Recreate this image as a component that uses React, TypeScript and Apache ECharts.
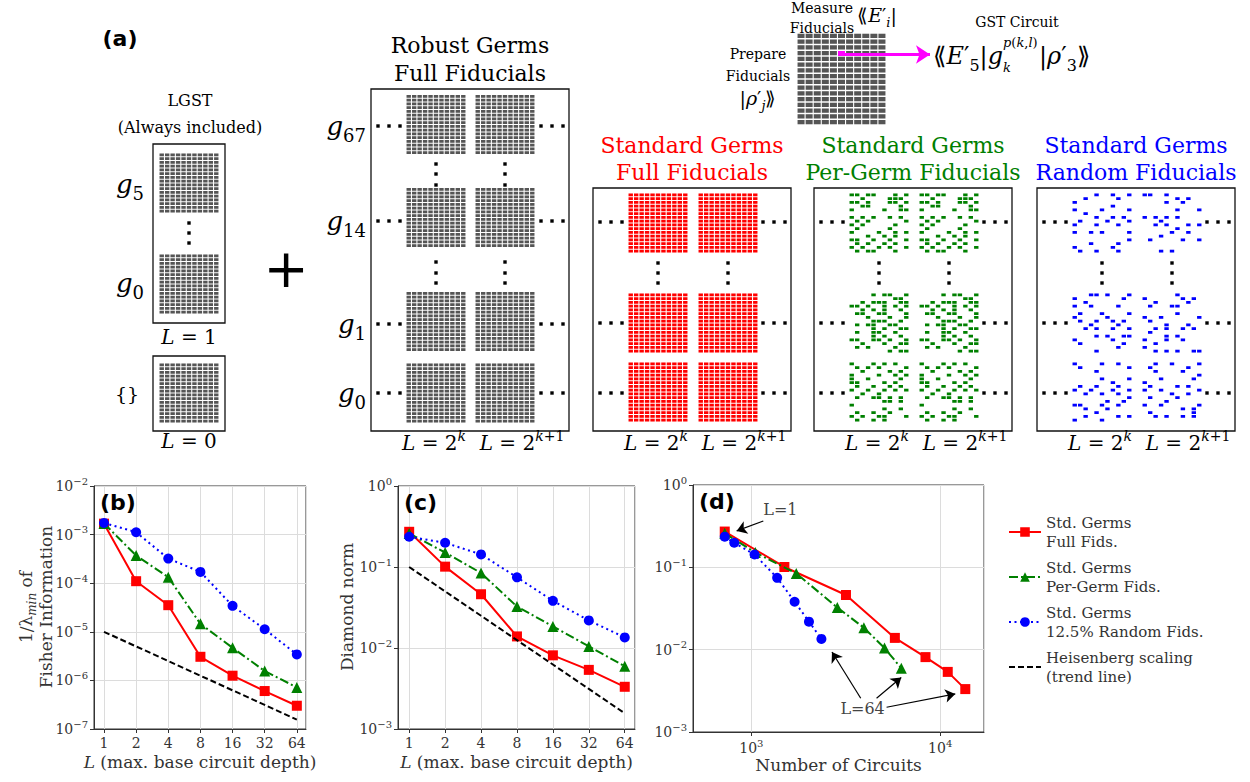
import React, { useEffect, useRef } from 'react';
import * as echarts from 'echarts';

// ---------------- data: bottom charts ----------------
const L_VALUES = [1, 2, 4, 8, 16, 32, 64];
const FISHER_FULL = [1.68e-3, 1.1e-4, 3.53e-5, 3.06e-6, 1.25e-6, 6.04e-7, 3.01e-7];
const FISHER_PERGERM = [1.7e-3, 3.7e-4, 1.33e-4, 1.46e-5, 4.69e-6, 1.56e-6, 7.18e-7];
const FISHER_RANDOM = [1.74e-3, 1.12e-3, 3.21e-4, 1.71e-4, 3.42e-5, 1.13e-5, 3.42e-6];
const FISHER_HEIS = [1e-5, 5e-6, 2.5e-6, 1.25e-6, 6.25e-7, 3.125e-7, 1.5625e-7];
const DIAMOND_FULL = [0.272, 0.101, 0.0461, 0.0139, 0.00812, 0.00537, 0.00332];
const DIAMOND_PERGERM = [0.259, 0.151, 0.0844, 0.0325, 0.01846, 0.01047, 0.00595];
const DIAMOND_RANDOM = [0.236, 0.199, 0.143, 0.0746, 0.0382, 0.0219, 0.0135];
const DIAMOND_HEIS = [0.1, 0.05, 0.025, 0.0125, 0.00625, 0.003125, 0.0015625];
const CIRCUITS_FULL = [723, 1496, 3170, 5754, 8358, 10965, 13580];
const CIRCUITS_PERGERM = [723, 1050, 1729, 2852, 3945, 5070, 6225];
const CIRCUITS_RANDOM = [723, 812, 1040, 1370, 1695, 2019, 2350];

const SERIES_NAMES = [
  'Std. Germs\nFull Fids.',
  'Std. Germs\nPer-Germ Fids.',
  'Std. Germs\n12.5% Random Fids.',
  'Heisenberg scaling\n(trend line)',
];

// annotation arrows in (d), data coordinates [from, to]
const D_ARROWS = [
  [[1157, 0.365], [836, 0.277]],
  [[3795, 0.00257], [2673, 0.00937]],
  [[4603, 0.00257], [6220, 0.0046]],
  [[5200, 0.002], [12020, 0.0029]],
];
const D_NOTES = [
  { name: 'L=1', coord: [1426, 0.5] },
  { name: 'L=64', coord: [3882, 0.00191] },
];

// ---------------- data: schematic masks (11 cols x 16 rows) ----------------
const FULL_ROW = '###########';
const FULL_BLOCK = Array.from({ length: 16 }, () => FULL_ROW);

const G_TOP = [
  '##.##...#.#', '..#....###.', '##.#...##.#', '..##.....#.',
  '#.....#..##', '...........', '#.#.#..#.#.', '.#.#......#',
  '#.#.....#..', '.#.....#...', '#....#..#.#', '...#..#.#..',
  '##..#..#..#', '.#.#..#.#..', '#.#..#.#..#', '.#.##...#..',
];
const G_MID = [
  '....#.##..#', '........##.', '..#.###..##', '##.#..#.#.#',
  '..#.#.#..#.', '.##..##...#', '...#...#..#', '....###..#.',
  '.#.##..##..', '....#.#..##', '.#..##..#..', '....#.#..#.',
  '##..##.#..#', '..#...#..##', '.#.#....#..', '.......#.##',
];
const G_BOT = [
  '#...#.#.#..', '.#.#.#....#', '..#....#.#.', '#....#..#.#',
  '#..#.....#.', '##....#.#..', '.#..#..#.#.', '#..#..#.#.#',
  '..#..#.....', '.#..##.#.#.', '......##.#.', '#..........',
  '......#..#.', '.#..#..#...', '#.#..##...#', '.#..#.#....',
];
const B_TL = [
  '....#..#..#', '..#.....#..', '#..........', '.......#...',
  '#....#....#', '..#........', '....#..#.#.', '.#....#...#',
  '#...#...#..', '...........', '#..#.#....#', '...........',
  '..........#', '...#....#..', '#......#...', '.#..#...#..',
];
const B_TR = [
  '##..#......', '......#.#..', '....#..#...', '...........',
  '......#...#', '...........', '#.#.#.#....', '...#.......',
  '..#.#...#.#', '......#....', '.....#..#..', '...#.......',
  '.#.....#..#', '...........', '...........', '...#.#.....',
];
const B_ML = [
  '...##.#...#', '#........#.', '..#........', '#..#....#..',
  '...........', '.#...#....#', '#.....#....', '.#..#..#.#.',
  '...#....#..', '..#.#..#..#', '...........', '....#.#..##',
  '#......#...', '.#.......#.', '........#..', '....#......',
];
const B_MR = [
  '......#....', '#......#.#.', '..#.....#..', '.#...##....',
  '...........', '......#....', '#..#......#', '.#.........',
  '....#...#..', '..#.#..#.#.', '.#.........', '....#.#....',
  '#...#..#...', '..#........', '#..........', '..#.#.#..##',
];
const B_BL = [
  '#....#..#..', '.#........#', '....#......', '...........',
  '.....#....#', '.......#...', '.#..#...#..', '#..#...#..#',
  '..#..#..#..', '..........#', '......#..#.', '##...#..#..',
  '..#...#....', '....#......', '..#.....#.#', '#....#.....',
];
const B_BR = [
  '..#..#....#', '.#......#..', '..#....#...', '..........#',
  '...#.....#.', '#..........', '.#....#.#..', '#..#......#',
  '.....#..#..', '.#....#....', '....#......', '#..#......#',
  '.......#.#.', '.#.......#.', '..#.#..#.#.', '...........',
];

// ---------------- layout of the schematic (pixels) ----------------
const PX = 60 / 11;
const PY = 60 / 16;
const SERIF = 'DejaVu Serif, serif';
const SANS = 'DejaVu Sans, sans-serif';
const RED = '#ff0000';
const GREEN = '#008000';
const BLUE = '#0000ff';

function blockCells(mask: string[], x0: number, y0: number, px: number, py: number, skip?: [number, number]) {
  const out: number[][] = [];
  mask.forEach((row, r) => {
    for (let c = 0; c < row.length; c++) {
      if (row[c] !== '#') continue;
      if (skip && skip[0] === c && skip[1] === r) continue;
      out.push([x0 + (c + 0.5) * px, y0 + (r + 0.5) * py]);
    }
  });
  return out;
}

const STD_TOPS = [193, 293, 362];
const ROBUST_TOPS = [94.5, 187.5, 291.5, 363];
const LGST_TOPS = [153, 254, 363];

function buildCells() {
  const gray: number[][] = [];
  LGST_TOPS.forEach((t) => gray.push(...blockCells(FULL_BLOCK, 159, t, PX, PY)));
  ROBUST_TOPS.forEach((t) => [406, 475].forEach((x) => gray.push(...blockCells(FULL_BLOCK, x, t, PX, PY))));
  const red: number[][] = [];
  STD_TOPS.forEach((t) => [628, 698].forEach((x) => red.push(...blockCells(FULL_BLOCK, x, t, PX, PY))));
  const green: number[][] = [];
  const gm = [G_TOP, G_MID, G_BOT];
  STD_TOPS.forEach((t, i) => [849, 919].forEach((x) => green.push(...blockCells(gm[i], x, t, PX, PY))));
  const blue: number[][] = [];
  const bm = [[B_TL, B_TR], [B_ML, B_MR], [B_BL, B_BR]];
  STD_TOPS.forEach((t, i) => [1072, 1142].forEach((x, j) => blue.push(...blockCells(bm[i][j], x, t, PX, PY))));
  const ex = blockCells(FULL_BLOCK, 797, 33, 89 / 11, 92 / 16, [5, 3]);
  const exHi = [[797 + 5.5 * (89 / 11), 33 + 3.5 * (92 / 16)]];
  const dots: number[][] = [];
  const hd = (b: number, y: number) => [7, 18, 29, 170, 181, 192].forEach((o) => dots.push([b + o, y]));
  [593, 814, 1037].forEach((b) => {
    [222, 323, 393].forEach((y) => hd(b, y));
    [65, 135].forEach((o) => [263, 273, 283].forEach((y) => dots.push([b + o, y])));
  });
  [126, 221, 324, 393].forEach((y) => hd(371, y));
  [65, 134].forEach((o) => [164, 174, 185, 262, 273, 283].forEach((y) => dots.push([371 + o, y])));
  [223, 233, 243].forEach((y) => dots.push([189, y]));
  return { gray, red, green, blue, ex, exHi, dots };
}

function mathRich(size: number) {
  const s = Math.round(size * 0.68);
  const lh = Math.round(size * 1.4);
  return {
    r: { fontFamily: SERIF, fontSize: size, lineHeight: lh },
    i: { fontFamily: SERIF, fontStyle: 'italic', fontSize: size, lineHeight: lh },
    sup: { fontFamily: SERIF, fontSize: s, lineHeight: s, verticalAlign: 'top' },
    isup: { fontFamily: SERIF, fontStyle: 'italic', fontSize: s, lineHeight: s, verticalAlign: 'top' },
    sub: { fontFamily: SERIF, fontSize: s, lineHeight: s, verticalAlign: 'bottom' },
    isub: { fontFamily: SERIF, fontStyle: 'italic', fontSize: s, lineHeight: s, verticalAlign: 'bottom' },
  };
}

function T(x: number, y: number, text: string, size: number, extra: any = {}, rot = 0) {
  return {
    type: 'text',
    x,
    y,
    rotation: rot,
    silent: true,
    z: 20,
    style: {
      text,
      fill: '#000',
      fontFamily: SERIF,
      fontSize: size,
      lineHeight: Math.round(size * 1.4),
      align: 'center',
      verticalAlign: 'middle',
      rich: mathRich(size),
      ...extra,
    },
  };
}

function R(x: number, y: number, w: number, h: number) {
  return {
    type: 'rect',
    silent: true,
    z: 5,
    shape: { x, y, width: w, height: h },
    style: { fill: 'none', stroke: '#111', lineWidth: 1.3 },
  };
}

function buildGraphic() {
  const g: any[] = [];
  g.push(T(120, 38, '(a)', 22, { fontFamily: SANS, fontWeight: 'bold' }));
  g.push(T(190, 100, 'LGST', 16));
  g.push(T(190, 127, '(Always included)', 16));
  g.push(R(153, 144, 72, 179));
  g.push(R(153, 356, 72, 75));
  g.push(T(144, 184, '{i|g}{sub|5}', 26, { align: 'right' }));
  g.push(T(144, 283, '{i|g}{sub|0}', 26, { align: 'right' }));
  g.push(T(127, 394, '{}', 19));
  g.push(T(189, 337, '{i|L} = 1', 20));
  g.push(T(189, 441, '{i|L} = 0', 20));
  g.push(T(286, 268, '+', 54, { fontFamily: SANS }));

  g.push(T(470, 45, 'Robust Germs', 22));
  g.push(T(470, 73, 'Full Fiducials', 22));
  g.push(R(371, 89, 198, 342));
  [['67', 126], ['14', 221], ['1', 324], ['0', 393]].forEach(([s, y]) =>
    g.push(T(366, y as number, `{i|g}{sub|${s}}`, 26, { align: 'right' })));

  const stdTitles: [number, string, string, string][] = [
    [593, 'Standard Germs', 'Full Fiducials', RED],
    [814, 'Standard Germs', 'Per-Germ Fiducials', GREEN],
    [1037, 'Standard Germs', 'Random Fiducials', BLUE],
  ];
  stdTitles.forEach(([b, t1, t2, col]) => {
    g.push(T(b + 99, 145, t1, 22, { fill: col }));
    g.push(T(b + 99, 172, t2, 22, { fill: col }));
    g.push(R(b, 188, 198, 243));
  });
  [371, 593, 814, 1037].forEach((b) => {
    g.push(T(b + 63, 443, '{i|L} = 2{isup|k}', 20));
    g.push(T(b + 151, 443, '{i|L} = 2{isup|k}{sup|+1}', 20));
  });

  // top example
  g.push(T(822, 8, 'Measure', 14));
  g.push(T(822, 28, 'Fiducials', 14));
  g.push(T(877, 15, '⟪{i|E}′{isub|i}|', 19));
  g.push(T(758, 54, 'Prepare', 14));
  g.push(T(758, 76, 'Fiducials', 14));
  g.push(T(758, 98, '|{i|ρ}′{isub|j}⟫', 19));
  g.push(T(1017, 22, 'GST Circuit', 14));
  g.push(T(1003, 56, '⟪{i|E}′{sub|5}|{i|g}', 24, { align: 'right' }));
  g.push(T(1003, 42, '{i|p}({i|k},{i|l})', 13, { align: 'left' }));
  g.push(T(1003, 67, '{i|k}', 13, { align: 'left' }));
  g.push(T(1039, 56, '|{i|ρ}′{sub|3}⟫', 24, { align: 'left' }));

  // bottom charts texts
  g.push(T(100, 502, '(b)', 22, { fontFamily: SANS, fontWeight: 'bold', align: 'left' }));
  g.push(T(404, 502, '(c)', 22, { fontFamily: SANS, fontWeight: 'bold', align: 'left' }));
  g.push(T(699, 501, '(d)', 22, { fontFamily: SANS, fontWeight: 'bold', align: 'left' }));
  g.push(T(26, 607, '1/λ{isub|min} of', 17, { fill: '#333' }, Math.PI / 2));
  g.push(T(46, 607, 'Fisher Information', 17, { fill: '#333' }, Math.PI / 2));
  g.push(T(347, 607, 'Diamond norm', 17, { fill: '#333' }, Math.PI / 2));
  return g;
}

const AX_COLOR = '#333';
const labelRich = {
  b: { fontFamily: SERIF, fontSize: 14, lineHeight: 20, color: AX_COLOR },
  sup: { fontFamily: SERIF, fontSize: 10, lineHeight: 10, verticalAlign: 'top', color: AX_COLOR },
};
const powFmt = (v: number) => {
  const e = Math.round(Math.log10(v));
  return `{b|10}{sup|${e < 0 ? '−' + -e : e}}`;
};

function axisCommon() {
  return {
    axisLine: { show: true, lineStyle: { color: AX_COLOR, width: 1 } },
    axisTick: { show: true, length: 4, lineStyle: { color: AX_COLOR } },
    splitLine: { show: true, lineStyle: { color: '#dcdcdc', width: 1 } },
    minorTick: { show: false },
    minorSplitLine: { show: false },
  };
}

function logX2(gi: number) {
  return {
    gridIndex: gi,
    type: 'log',
    logBase: 2,
    min: 0.806,
    max: 78,
    ...axisCommon(),
    axisLabel: {
      showMinLabel: false,
      showMaxLabel: false,
      formatter: (v: number) => String(Math.round(v)),
      fontFamily: SERIF,
      fontSize: 14,
      color: AX_COLOR,
      margin: 7,
    },
    name: '{i|L} (max. base circuit depth)',
    nameLocation: 'middle',
    nameGap: 24,
    nameTextStyle: {
      fontFamily: SERIF,
      fontSize: 17,
      color: AX_COLOR,
      rich: { i: { fontFamily: SERIF, fontStyle: 'italic', fontSize: 17, color: AX_COLOR } },
    },
  };
}

function logY(gi: number, min: number, max: number) {
  return {
    gridIndex: gi,
    type: 'log',
    logBase: 10,
    min,
    max,
    ...axisCommon(),
    axisLabel: { formatter: powFmt, rich: labelRich, margin: 6 },
  };
}

function lineSeries(gi: number, xs: number[], ys: number[], kind: number, extra: any = {}) {
  const styles = [
    { color: RED, symbol: 'rect', size: 10, type: 'solid' },
    { color: GREEN, symbol: 'triangle', size: 11, type: [9, 3, 2, 3] },
    { color: BLUE, symbol: 'circle', size: 10, type: [2, 3.5] },
    { color: '#000', symbol: 'none', size: 0, type: [6, 3] },
  ][kind];
  return {
    type: 'line',
    name: SERIES_NAMES[kind],
    xAxisIndex: gi,
    yAxisIndex: gi,
    data: xs.map((x, i) => [x, ys[i]]),
    symbol: styles.symbol,
    symbolSize: styles.size,
    showSymbol: styles.symbol !== 'none',
    itemStyle: { color: kind === 3 ? 'rgba(0,0,0,0)' : styles.color },
    lineStyle: { color: styles.color, width: 2, type: styles.type },
    z: 3 + kind,
    silent: true,
    ...extra,
  };
}

export default function App() {
  const ref = useRef<HTMLDivElement>(null);
  useEffect(() => {
    document.body.style.margin = '0';
    if (!ref.current) return;
    const chart = echarts.init(ref.current, null, { renderer: 'svg' });
    const cells = buildCells();
    const cellSeries = (name: string, data: number[][], color: string, size: number[]) => ({
      type: 'scatter',
      name,
      xAxisIndex: 0,
      yAxisIndex: 0,
      data,
      symbol: 'rect',
      symbolSize: size,
      itemStyle: { color, opacity: 1 },
      silent: true,
      z: 2,
    });
    const exHighlight: any = cellSeries('exHi', cells.exHi, '#ff00ff', [7, 4.3]);
    exHighlight.markLine = {
      silent: true,
      symbol: ['none', 'arrow'],
      symbolSize: 14,
      label: { show: false },
      lineStyle: { color: '#ff00ff', width: 3, type: 'solid' },
      data: [[{ coord: [838, 54.5] }, { coord: [930, 54.5] }]],
    };
    const dRed: any = lineSeries(3, CIRCUITS_FULL, DIAMOND_FULL, 0);
    dRed.markLine = {
      silent: true,
      symbol: ['none', 'arrow'],
      symbolSize: 10,
      label: { show: false },
      lineStyle: { color: '#000', width: 1.2, type: 'solid' },
      data: D_ARROWS.map(([a, b]) => [{ coord: a }, { coord: b }]),
    };
    dRed.markPoint = {
      silent: true,
      symbol: 'circle',
      symbolSize: 1,
      itemStyle: { color: 'rgba(0,0,0,0)' },
      label: {
        show: true,
        position: 'inside',
        formatter: (p: any) => p.name,
        fontFamily: SERIF,
        fontSize: 16,
        color: '#444',
      },
      data: D_NOTES.map((n) => ({ name: n.name, coord: n.coord })),
    };

    const option: any = {
      animation: false,
      backgroundColor: '#ffffff',
      legend: {
        data: SERIES_NAMES,
        orient: 'vertical',
        left: 1003,
        top: 508,
        itemWidth: 32,
        itemHeight: 12,
        itemGap: 7,
        selectedMode: false,
        textStyle: { fontFamily: SERIF, fontSize: 15, lineHeight: 19, color: '#333' },
      },
      grid: [
        { left: 0, top: 0, width: 1250, height: 782, show: false, containLabel: false, outerBoundsMode: 'none' },
        { left: 94, top: 486, width: 212, height: 243, show: true, borderColor: AX_COLOR, borderWidth: 1, containLabel: false, outerBoundsMode: 'none' },
        { left: 398, top: 486, width: 237, height: 243, show: true, borderColor: AX_COLOR, borderWidth: 1, containLabel: false, outerBoundsMode: 'none' },
        { left: 693, top: 485, width: 291, height: 247, show: true, borderColor: AX_COLOR, borderWidth: 1, containLabel: false, outerBoundsMode: 'none' },
      ],
      xAxis: [
        { gridIndex: 0, type: 'value', min: 0, max: 1250, show: false },
        logX2(1),
        logX2(2),
        {
          gridIndex: 3,
          type: 'log',
          logBase: 10,
          min: 491,
          max: 17060,
          ...axisCommon(),
          axisLabel: { showMinLabel: false, showMaxLabel: false, formatter: powFmt, rich: labelRich, margin: 6 },
          name: 'Number of Circuits',
          nameLocation: 'middle',
          nameGap: 24,
          nameTextStyle: { fontFamily: SERIF, fontSize: 17, color: AX_COLOR },
        },
      ],
      yAxis: [
        { gridIndex: 0, type: 'value', min: 0, max: 782, inverse: true, show: false },
        logY(1, 1e-7, 1e-2),
        logY(2, 1e-3, 1),
        logY(3, 1e-3, 1),
      ],
      series: [
        cellSeries('gray', cells.gray, '#555555', [4.4, 2.8]),
        cellSeries('red', cells.red, RED, [4.4, 2.8]),
        cellSeries('green', cells.green, GREEN, [4.4, 2.8]),
        cellSeries('blue', cells.blue, BLUE, [4.4, 2.8]),
        cellSeries('ex', cells.ex, '#555555', [7, 4.3]),
        exHighlight,
        cellSeries('dots', cells.dots, '#000', [3.4, 3.4]),
        lineSeries(1, L_VALUES, FISHER_HEIS, 3),
        lineSeries(1, L_VALUES, FISHER_FULL, 0),
        lineSeries(1, L_VALUES, FISHER_PERGERM, 1),
        lineSeries(1, L_VALUES, FISHER_RANDOM, 2),
        lineSeries(2, L_VALUES, DIAMOND_HEIS, 3),
        lineSeries(2, L_VALUES, DIAMOND_FULL, 0),
        lineSeries(2, L_VALUES, DIAMOND_PERGERM, 1),
        lineSeries(2, L_VALUES, DIAMOND_RANDOM, 2),
        dRed,
        lineSeries(3, CIRCUITS_PERGERM, DIAMOND_PERGERM, 1),
        lineSeries(3, CIRCUITS_RANDOM, DIAMOND_RANDOM, 2),
      ],
      graphic: buildGraphic(),
    };
    chart.setOption(option);
    return () => chart.dispose();
  }, []);
  return <div ref={ref} style={{ position: 'absolute', left: 0, top: 0, width: 1250, height: 782 }} />;
}
